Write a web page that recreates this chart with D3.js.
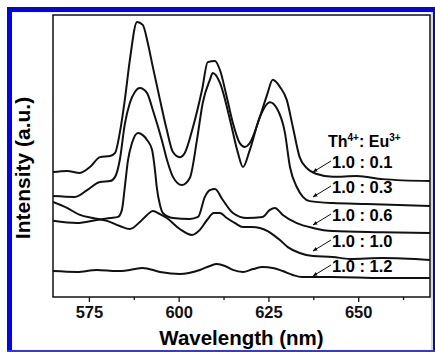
<!DOCTYPE html>
<html>
<head>
<meta charset="utf-8">
<script src="https://cdn.jsdelivr.net/npm/d3@7/dist/d3.min.js"></script>
<style>
  body { margin: 0; background: #fff; }
  svg { display: block; font-family: "Liberation Sans", Arial, sans-serif; font-weight: bold; }
</style>
</head>
<body>
<div class="chart"></div>
<script>
// emission spectra, Th4+ : Eu3+ ratios
var ratios = ["1.0 : 0.1", "1.0 : 0.3", "1.0 : 0.6", "1.0 : 1.0", "1.0 : 1.2"];

var wl01 = [565, 568.9, 572.5, 575.3, 578.1, 580.9, 582.3, 583.6, 585, 586.4, 588.4, 590, 591.4, 592.8, 594.8, 596.7, 598.4, 600.3, 601.7, 604, 606.5, 608.1, 610.1, 611.5, 613.4, 615.1, 617, 618.4, 619.8, 622.6, 624.6, 626.2, 628.2, 630.1, 631.8, 633.7, 635.7, 638.5, 642.9, 649.6, 656.8, 670];
var int01 = [44.3, 44.7, 44.0, 46.1, 49.6, 50.0, 51.1, 58.2, 69.9, 84.0, 97.5, 96.5, 90.1, 81.6, 69.9, 59.2, 51.4, 49.6, 51.1, 60.3, 73.4, 83.3, 83.7, 80.5, 70.9, 61.7, 54.6, 53.2, 54.6, 63.8, 71.6, 77.0, 74.5, 69.9, 60.3, 49.6, 45.7, 43.6, 42.6, 42.9, 41.8, 41.1];

var wl03 = [565, 571.1, 574.5, 578.1, 580.9, 582.3, 583.6, 585, 586.4, 587.8, 589.2, 591.2, 592.8, 595.3, 597, 598.4, 600.9, 603.1, 605.1, 606.7, 608.7, 609.5, 611.5, 614.3, 616.5, 617.9, 619.8, 622.6, 625.4, 627.3, 629.6, 631, 632.9, 634.6, 636.5, 642.9, 652.4, 670];
var int03 = [35.8, 35.5, 37.9, 40.8, 41.1, 42.6, 48.6, 61.3, 68.8, 72.7, 74.1, 72.3, 66.3, 55.7, 47.5, 42.6, 39.7, 42.2, 55.7, 68.8, 77.0, 79.4, 75.9, 62.8, 51.1, 46.1, 52.1, 63.8, 69.1, 67.0, 58.2, 46.1, 39.0, 35.5, 34.0, 33.3, 33.0, 32.3];

var wl06 = [565, 571.7, 577.2, 580.9, 583.1, 584.2, 585, 585.9, 587, 588.7, 590, 591.2, 592.6, 593.4, 593.9, 594.8, 595.6, 598.4, 603.1, 605.4, 607.3, 608.7, 610.1, 612.3, 615.1, 619, 623.4, 625.4, 626.8, 629, 632.9, 637.4, 642.9, 656.8, 670];
var int06 = [27.0, 26.2, 27.3, 28.0, 28.4, 30.9, 39.0, 48.6, 54.6, 58.2, 57.4, 55.7, 52.1, 45.0, 39.0, 32.6, 29.8, 28.0, 27.7, 28.4, 35.5, 37.9, 38.3, 34.4, 29.8, 28.0, 28.4, 30.9, 31.6, 29.1, 26.2, 24.5, 23.4, 23.0, 22.7];

var wl10 = [565, 568.9, 572.5, 576.1, 580, 583.6, 586.4, 589.2, 591.2, 592.8, 594.8, 596.7, 600.3, 603.7, 605.9, 607.9, 609.8, 611.5, 613.4, 615.7, 617.9, 620.4, 622.6, 624.8, 626.8, 628.2, 630.4, 633.7, 637.4, 642.9, 647.7, 656.8, 670];
var int10 = [33.7, 31.6, 29.1, 28.0, 27.0, 25.2, 24.1, 26.6, 29.1, 30.5, 29.4, 28.0, 24.1, 22.0, 23.8, 27.3, 29.8, 29.8, 28.0, 26.2, 24.8, 24.8, 24.5, 23.4, 21.6, 20.2, 17.7, 15.6, 14.5, 14.2, 13.5, 13.8, 13.1];

var wl12 = [565, 571.7, 577.2, 582.8, 586.4, 590, 594.8, 600.3, 605.9, 608.7, 610.6, 612.9, 615.1, 617.9, 620.7, 623.4, 626.2, 629, 631.8, 634.3, 642.9, 656.8, 670];
var int12 = [9.2, 8.9, 9.6, 9.2, 9.6, 10.3, 8.9, 8.2, 9.6, 11.0, 11.7, 11.0, 9.6, 8.9, 9.9, 10.6, 10.3, 9.2, 7.8, 7.1, 7.1, 6.7, 6.7];

var majorTicks = [575, 600, 625, 650];
var minorTicks = [587.5, 612.5, 637.5, 662.5];

var series = [
  {wl: wl01, val: int01},
  {wl: wl03, val: int03},
  {wl: wl06, val: int06},
  {wl: wl10, val: int10},
  {wl: wl12, val: int12}
];

var width = 435, height = 352;
var plotLeft = 53, plotRight = 430, plotTop = 15, plotBottom = 297;
var labelBase = [168, 193, 221, 247, 272];

var svg = d3.select(".chart").append("svg").attr("width", width).attr("height", height);

// blue frame
svg.append("rect").attr("x", 7).attr("y", 7).attr("width", 5).attr("height", 345).attr("fill", "#0000ff");
svg.append("rect").attr("x", 7).attr("y", 7).attr("width", 428).attr("height", 5).attr("fill", "#0000ff");
svg.append("rect").attr("x", 433).attr("y", 7).attr("width", 2).attr("height", 345).attr("fill", "#0000ff");
svg.append("rect").attr("x", 7).attr("y", 350).attr("width", 428).attr("height", 2).attr("fill", "#3333ff");
svg.append("rect").attr("x", 431.5).attr("y", 12).attr("width", 1).attr("height", 338).attr("fill", "#b0b0b0");

var x = d3.scaleLinear().domain([565, 670]).range([plotLeft, plotRight]);
var y = d3.scaleLinear().domain([0, 100]).range([plotBottom, plotTop]);

svg.append("clipPath").attr("id", "clip")
  .append("rect").attr("x", plotLeft).attr("y", plotTop)
  .attr("width", plotRight - plotLeft).attr("height", plotBottom - plotTop);

var line = d3.line()
  .x(function(d) { return x(d[0]); })
  .y(function(d) { return y(d[1]); })
  .curve(d3.curveMonotoneX);

svg.append("g").attr("clip-path", "url(#clip)")
  .selectAll("path")
  .data(series)
  .enter()
  .append("path")
  .attr("d", function(s) { return line(d3.zip(s.wl, s.val)); })
  .attr("fill", "none")
  .attr("stroke", "#111")
  .attr("stroke-width", 2)
  .attr("stroke-linejoin", "round");

// axes
var gx = svg.append("g").attr("transform", "translate(0," + plotBottom + ")");
gx.call(d3.axisBottom(x).tickValues(majorTicks).tickSize(5).tickPadding(4).tickFormat(d3.format("d")));
gx.append("g").call(d3.axisBottom(x).tickValues(minorTicks).tickSize(3).tickFormat(""));
gx.selectAll(".domain").remove();
gx.selectAll("line").attr("stroke", "#111").attr("stroke-width", 1.3);
gx.selectAll("text")
  .attr("fill", "#111")
  .style("font-family", "'Liberation Sans', Arial, sans-serif")
  .style("font-weight", "bold")
  .style("font-size", "16.5px");

svg.append("rect")
  .attr("x", plotLeft).attr("y", plotTop)
  .attr("width", plotRight - plotLeft).attr("height", plotBottom - plotTop)
  .attr("fill", "none").attr("stroke", "#111").attr("stroke-width", 1.5);

svg.append("text")
  .attr("x", (plotLeft + plotRight) / 2).attr("y", 345)
  .attr("text-anchor", "middle")
  .style("font-size", "20.5px")
  .text("Wavelength (nm)");

svg.append("text")
  .attr("transform", "translate(30,168) rotate(-90)")
  .attr("text-anchor", "middle")
  .style("font-size", "21px")
  .text("Intensity (a.u.)");

// legend
var title = svg.append("text").attr("x", 328).attr("y", 147).style("font-size", "16px");
title.append("tspan").text("Th");
title.append("tspan").attr("dy", -6).style("font-size", "10px").text("4+");
title.append("tspan").attr("dy", 6).text(": Eu");
title.append("tspan").attr("dy", -6).style("font-size", "10px").text("3+");

var defs = svg.append("defs");
defs.append("marker").attr("id", "head")
  .attr("viewBox", "0 0 10 10").attr("refX", 9).attr("refY", 5)
  .attr("markerWidth", 5).attr("markerHeight", 5)
  .attr("orient", "auto")
  .append("path").attr("d", "M0,1 L10,5 L0,9 z").attr("fill", "#111");

var lab = svg.append("g").selectAll("g")
  .data(ratios)
  .enter()
  .append("g");

lab.append("text")
  .attr("x", 332)
  .attr("y", function(d, i) { return labelBase[i]; })
  .style("font-size", "16.5px")
  .text(function(d) { return d; });

lab.append("line")
  .attr("x1", 331).attr("y1", function(d, i) { return labelBase[i] - 7; })
  .attr("x2", 313).attr("y2", function(d, i) { return labelBase[i] + 4; })
  .attr("stroke", "#111").attr("stroke-width", 1)
  .attr("marker-end", "url(#head)");
</script>
</body>
</html>
